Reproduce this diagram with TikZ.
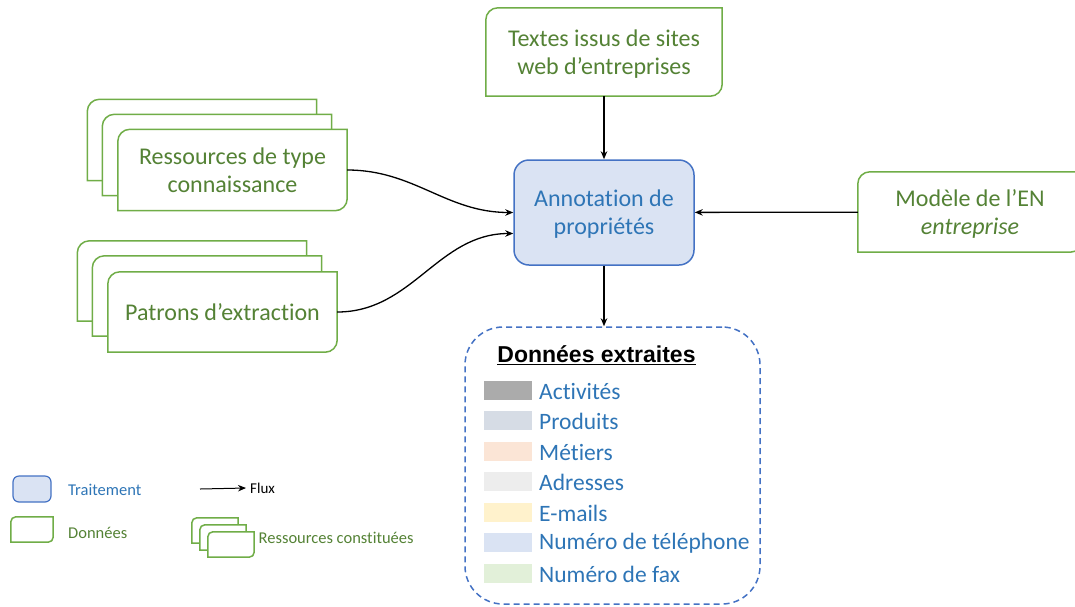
\documentclass[tikz,border=0pt]{standalone}
\usepackage{fontspec}
\setmainfont{Carlito}[Ligatures={TeX,NoCommon}]
\newfontfamily\arialfont{Liberation Sans}
\usetikzlibrary{arrows.meta,backgrounds}

\definecolor{vert}{HTML}{70AD47}
\definecolor{verttxt}{HTML}{548235}
\definecolor{bleu}{HTML}{4472C4}
\definecolor{bleutxt}{HTML}{2E75B6}
\definecolor{bleufond}{HTML}{DAE3F3}
\definecolor{cactiv}{HTML}{ABABAB}
\definecolor{cprod}{HTML}{D6DCE5}
\definecolor{cmetier}{HTML}{FBE5D6}
\definecolor{cadr}{HTML}{EDEDED}
\definecolor{cmail}{HTML}{FFF2CC}
\definecolor{ctel}{HTML}{DAE3F3}
\definecolor{cfax}{HTML}{E2F0D9}

\begin{document}
\begin{tikzpicture}[x=1pt,y=1pt]
    \useasboundingbox (0,0) rectangle (1075,-606);

    \tikzstyle{donnee}=[text=verttxt,font=\fontsize{24}{28}\selectfont,align=center,inner sep=0pt,minimum width=229pt,minimum height=81pt]
    \tikzstyle{deuxlignes}=[text depth=0pt]
    \tikzstyle{contour}=[draw=vert,line width=1.5pt,fill=white]
    \tikzstyle{traitement}=[draw=bleu,line width=1.5pt,fill=bleufond,rounded corners=15pt,text=bleutxt,font=\fontsize{24}{28}\selectfont,align=center]
    \tikzstyle{extrait}=[draw=bleu,line width=1.5pt,dash pattern=on 6pt off 4pt,rounded corners=38pt]
    \tikzstyle{swatch}=[inner sep=0pt,minimum width=48pt,minimum height=19pt]
    \tikzstyle{item}=[anchor=west,inner sep=0pt,text=bleutxt,font=\fontsize{23.5}{28}\selectfont]
    \tikzstyle{legende}=[anchor=west,inner sep=0pt,font=\fontsize{16.5}{20}\selectfont]
    \tikzstyle{fwd}=[draw=black,line width=1.3pt,-{Stealth[length=8pt,width=6.5pt]}]

    % piles de ressources
    \node[donnee] (res3) at (202,-140) {};
    \node[donnee] (res2) at (217,-155) {};
    \node[donnee,deuxlignes] (res) at (232.5,-170) {Ressources de type\\connaissance};
    \node[donnee,minimum height=80pt] (pat3) at (192,-281) {};
    \node[donnee,minimum height=80pt] (pat2) at (207,-296) {};
    \node[donnee,minimum height=80pt] (pat) at (222.5,-312) {Patrons d’extraction};

    \node[donnee,deuxlignes,minimum width=236pt,minimum height=88pt] (textes) at (604,-52) {Textes issus de sites\\web d’entreprises};
    \node[donnee,deuxlignes,minimum width=224pt,minimum height=80pt] (modele) at (970,-212) {Modèle de l’EN\\\textit{entreprise}};
    \node[traitement,deuxlignes,minimum width=180pt,minimum height=105pt] (ann) at (604,-212.5) {Annotation de\\propriétés};

    % donnees extraites
    \node[extrait,minimum width=295pt,minimum height=277pt] (extraites) at (612.5,-465.5) {};
    \node[font=\arialfont\bfseries\fontsize{23}{27}\selectfont] (titre) at (596.5,-355) {\underline{Données extraites}};
    \foreach \col/\txt [count=\i] in {cactiv/Activités,cprod/Produits,cmetier/Métiers,cadr/Adresses,cmail/E-mails,ctel/Numéro de téléphone,cfax/Numéro de fax}
    {
        \node[swatch,fill=\col] (sw\i) at (508,{-390-30.5*(\i-1)}) {};
        \node[item] (it\i) at (539,{-391-30.5*(\i-1)}) {\txt};
    }

    % legende
    \node[traitement,minimum width=38pt,minimum height=26pt,rounded corners=6pt,line width=1.2pt] (legtrait) at (32,-489) {};
    \node[legende,text=bleutxt] (legtraittxt) at (68,-490) {Traitement};
    \node[donnee,minimum width=42pt,minimum height=25pt] (legdon) at (32,-529.5) {};
    \node[legende,text=verttxt] (legdontxt) at (68,-533) {Données};
    \node[donnee,minimum width=46pt,minimum height=25pt] (leg3) at (215,-530.5) {};
    \node[donnee,minimum width=46pt,minimum height=25pt] (leg2) at (223,-537.5) {};
    \node[donnee,minimum width=46pt,minimum height=25pt] (leg1) at (231,-544.5) {};
    \node[legende,text=verttxt] (legres) at (258.5,-538) {Ressources constituées};
    \coordinate (fluxdeb) at (200,-489);
    \node[legende,text=black,font=\fontsize{15}{18}\selectfont] (flux) at (250,-488) {Flux};

    \begin{scope}[on background layer]
    \foreach \nom/\ray in {res3/12pt,res2/12pt,res/12pt,pat3/12pt,pat2/12pt,pat/12pt,textes/12pt,modele/12pt,legdon/5pt,leg3/5pt,leg2/5pt,leg1/5pt}
        \draw[contour] (\nom.north east) -- ([xshift=\ray]\nom.north west) arc[start angle=90,end angle=180,radius=\ray] -- (\nom.south west) -- ([xshift=-\ray]\nom.south east) arc[start angle=270,end angle=360,radius=\ray] -- cycle;
    \end{scope}

    \draw [fwd] (textes) -- (ann);
    \draw [fwd] (modele) -- (ann);
    \draw [fwd] (res.east) to[out=0,in=180] (ann.west);
    \draw [fwd] (pat.east) to[out=0,in=180] ([yshift=-21pt]ann.west);
    \draw [fwd] (ann) -- (ann |- extraites.north);
    \draw [fwd,line width=1pt] (fluxdeb) -- ([xshift=-4pt]flux.west);
\end{tikzpicture}
\end{document}
